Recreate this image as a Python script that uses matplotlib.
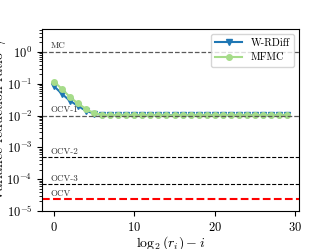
import matplotlib
matplotlib.use("Agg")
import matplotlib.pyplot as plt
import numpy as np

plt.rcParams['font.family'] = ['cmr10', 'DejaVu Serif']
plt.rcParams['mathtext.fontset'] = 'cm'
plt.rcParams['axes.formatter.use_mathtext'] = True

x = list(range(30))
wrdiff = [0.085, 0.048, 0.029, 0.020, 0.014, 0.0115, 0.0105, 0.0102] + [0.0101] * 22
mfmc = [0.117, 0.069, 0.038, 0.024, 0.016, 0.0118, 0.0106, 0.0102] + [0.0101] * 22

ref_names = ["MC", "OCV-1", "OCV-2", "OCV-3", "OCV"]
ref_values = [1.0, 1.0e-2, 4.9e-4, 6.9e-5, 2.3e-5]

fig = plt.figure(figsize=(3.32, 2.49), dpi=100)
ax = fig.add_axes([0.127, 0.153, 0.773, 0.731])

ax.plot(x, wrdiff, color='#1f77b4', marker='v', markersize=4, lw=1.5, label='W-RDiff')
ax.plot(x, mfmc, color='#a6dc8a', marker='o', markersize=4, lw=1.5, label='MFMC')

ax.set_yscale('log')
ax.set_ylim(1e-5, 5.3)
ax.margins(x=0.05)

for name, val in zip(ref_names, ref_values):
    if name == "OCV":
        ax.axhline(val, color='red', ls='--', lw=1.5)
    elif name in ("MC", "OCV-1"):
        ax.axhline(val, color='0.35', ls='--', lw=0.9)
    else:
        ax.axhline(val, color='black', ls='--', lw=0.8)
    ax.text(-0.4, val * 1.12, name, fontsize=6.5, ha='left', va='bottom', color='0.2')

ax.set_xticks([0, 10, 20, 30])
ax.set_xlabel(r'$\log_2(r_i) - i$', fontsize=10)
ax.set_ylabel(r'Variance reduction ratio $\gamma$', fontsize=10)
ax.xaxis.set_label_coords(0.5, -0.13)
ax.yaxis.set_label_coords(-0.134, 0.5)
ax.tick_params(labelsize=9)
ax.legend(loc='upper right', fontsize=7.5, handlelength=2.6)

fig.savefig('out.png', dpi=100)
